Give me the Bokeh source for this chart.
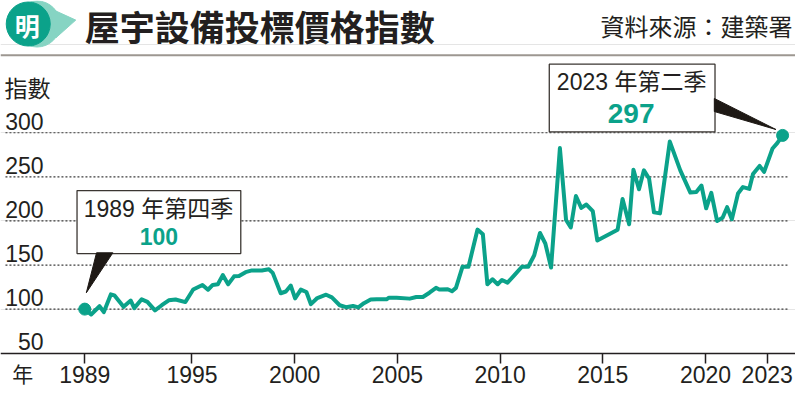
from bokeh.plotting import figure
from bokeh.models import Range1d, FixedTicker, Label
from bokeh.embed import file_html
from bokeh.resources import INLINE

# ---------------- data ----------------
period = [1989.78, 1990.09, 1990.50, 1990.71, 1991.05, 1991.22, 1991.67, 1992.02, 1992.19, 1992.55,
          1992.83, 1993.20, 1993.53, 1993.87, 1994.20, 1994.68, 1995.06, 1995.51, 1995.78, 1996.01,
          1996.26, 1996.50, 1996.76, 1997.05, 1997.29, 1997.61, 1997.92, 1998.40, 1998.74, 1998.93,
          1999.32, 1999.57, 1999.81, 2000.02, 2000.30, 2000.57, 2000.79, 2001.10, 2001.53, 2001.81,
          2002.19, 2002.50, 2002.84, 2003.10, 2003.37, 2003.70, 2003.99, 2004.47, 2004.59, 2004.96,
          2005.60, 2005.92, 2006.24, 2006.56, 2006.88, 2007.04, 2007.45, 2007.66, 2007.85, 2008.17,
          2008.46, 2008.90, 2009.16, 2009.38, 2009.63, 2009.88, 2010.09, 2010.36, 2010.74, 2011.06,
          2011.37, 2011.66, 2011.94, 2012.20, 2012.48, 2012.91, 2013.21, 2013.44, 2013.69, 2013.95,
          2014.20, 2014.51, 2014.73, 2015.72, 2015.96, 2016.28, 2016.49, 2016.76, 2017.00, 2017.25,
          2017.49, 2017.78, 2018.26, 2018.77, 2019.26, 2019.55, 2019.80, 2020.03, 2020.28, 2020.56,
          2020.83, 2021.05, 2021.28, 2021.58, 2021.82, 2022.13, 2022.31, 2022.63, 2022.85, 2023.26,
          2023.49, 2023.75]

index_values = [100, 93.9, 103.3, 96.7, 116.7, 115.6, 102.6, 109.7, 101.1, 111.1,
                108.3, 98.6, 104.4, 110.0, 110.9, 108.0, 122.2, 127.4, 122.0, 127.4,
                128.2, 138.6, 128.1, 137.2, 137.6, 141.9, 143.9, 143.9, 145.2, 141.1,
                118.0, 120.0, 126.7, 112.2, 122.1, 119.4, 105.6, 112.6, 116.3, 113.3,
                104.4, 102.2, 103.6, 101.9, 106.7, 110.9, 111.1, 111.1, 113.0, 113.0,
                111.9, 113.7, 113.7, 118.6, 124.1, 122.2, 122.6, 120.3, 124.1, 148.1,
                148.1, 190.2, 184.9, 128.2, 133.8, 128.2, 133.1, 130.0, 139.7, 148.1,
                148.1, 161.1, 186.3, 174.4, 147.2, 282.6, 201.1, 192.6, 228.3, 214.8,
                218.6, 211.1, 177.8, 190.0, 224.8, 196.3, 258.1, 235.9, 257.4, 248.1,
                209.7, 208.6, 290.0, 257.4, 232.2, 232.8, 240.2, 214.4, 231.8, 200.0,
                203.7, 215.6, 201.9, 231.1, 238.4, 236.4, 253.3, 262.4, 255.6, 282.2,
                288.3, 297]

y_ticks = [50, 100, 150, 200, 250, 300]
x_ticks = [1989.78, 1995, 2000, 2005, 2010, 2015, 2020, 2023]
x_tick_labels = ["1989", "1995", "2000", "2005", "2010", "2015", "2020", "2023"]

title_text = "屋宇設備投標價格指數"
source_text = "資料來源：建築署"
y_title = "指數"
x_title = "年"
start_label = "1989 年第四季"
end_label = "2023 年第二季"

# ---------------- style ----------------
TEAL = "#0ba28a"
LIGHT_TEAL = "#86d4c3"
INK = "#231f20"
NUM_FONT = "Liberation Sans"
CJK_FONT = "Noto Sans CJK TC"
MIX_FONT = "Liberation Sans, Noto Sans CJK TC"


# layout helpers: reference-picture pixel -> plot coordinates (positions only)
def X(px):
    return 1995 + (px - 193.4) / 20.75


def Y(py):
    return 100 + (315 - py) / 0.9


p = figure(width=795, height=387,
           x_range=Range1d(X(0), X(803)), y_range=Range1d(Y(395), Y(0)),
           output_backend="svg", toolbar_location=None, y_axis_location=None,
           min_border_left=0, min_border_right=0, min_border_top=0, min_border_bottom=0)
p.outline_line_color = None
p.background_fill_color = "white"
p.xgrid.visible = False

# dotted horizontal guide lines at the y ticks
grid_levels = y_ticks[1:]
p.segment(x0=[X(5)] * len(grid_levels), y0=grid_levels,
          x1=[X(795)] * len(grid_levels), y1=grid_levels,
          line_color="#3d3d3d", line_width=1.2, line_dash="2 2")

ax = p.xaxis[0]
ax.fixed_location = y_ticks[0]
ax.ticker = FixedTicker(ticks=x_ticks)
ax.major_label_overrides = {t: l for t, l in zip(x_ticks, x_tick_labels)}
ax.axis_line_color = INK
ax.axis_line_width = 1.5
ax.major_tick_line_color = INK
ax.major_tick_line_width = 1.5
ax.major_tick_in = 0
ax.major_tick_out = 10
ax.minor_tick_in = 0
ax.minor_tick_out = 0
ax.major_label_standoff = 3
ax.major_label_text_font = NUM_FONT
ax.major_label_text_font_size = "23px"
ax.major_label_text_color = INK


def add_text(x, y, text, size, font=CJK_FONT, align="left", color=INK, style="normal"):
    p.add_layout(Label(x=x, y=y, text=text, text_align=align, text_baseline="middle",
                       text_font=font, text_font_style=style, text_font_size=size,
                       text_color=color))


# header
p.scatter([X(37)], [Y(24)], size=46, color=LIGHT_TEAL)
p.patch([X(50), X(76), X(56)], [Y(8), Y(20), Y(38)], color=LIGHT_TEAL)
p.scatter([X(28)], [Y(24)], size=44, color=TEAL)
add_text(X(27), Y(25), "明", "25px", align="center", color="white", style="bold")
add_text(X(85), Y(25.5), title_text, "35px", style="bold")
add_text(X(800), Y(26), source_text, "24px", align="right")
p.segment(x0=[X(0)], y0=[Y(56)], x1=[X(803)], y1=[Y(56)], line_color="#9d9791", line_width=2)

# axis titles
add_text(X(4), Y(88), y_title, "23px")
add_text(X(22.5), Y(380.5), x_title, "21px", align="center")

# y tick labels sitting above the gridlines
for v in y_ticks:
    add_text(X(43.5), v + 12 / 0.9, str(v), "23px", font=NUM_FONT, align="right")

# series
p.line(period, index_values, line_color=TEAL, line_width=4, line_join="round", line_cap="round")
p.scatter([period[0], period[-1]], [index_values[0], index_values[-1]], size=12, color=TEAL)

# callout boxes
p.quad(left=[X(77.3), X(554.3)], right=[X(242.7), X(721.7)],
       top=[Y(194), Y(65)], bottom=[Y(258.3), Y(134)],
       fill_color="white", line_color="#3b3632", line_width=1.3)
p.patch([X(97), X(113.5), X(86.7)], [Y(257.5), Y(257.5), Y(298.3)], color="#1e1915")
p.patch([X(721), X(721), X(783.3)], [Y(100), Y(113.3), Y(131.7)], color="#1e1915")

add_text(X(159.5), Y(212.5), start_label, "23px", font=MIX_FONT, align="center")
add_text(X(160), Y(241), str(index_values[0]), "23px", font=NUM_FONT, align="center",
         color=TEAL, style="bold")
add_text(X(637.5), Y(83.5), end_label, "23px", font=MIX_FONT, align="center")
add_text(X(637), Y(115.5), str(index_values[-1]), "28px", font=NUM_FONT, align="center",
         color=TEAL, style="bold")

open("out.html", "w").write(file_html(p, INLINE))
